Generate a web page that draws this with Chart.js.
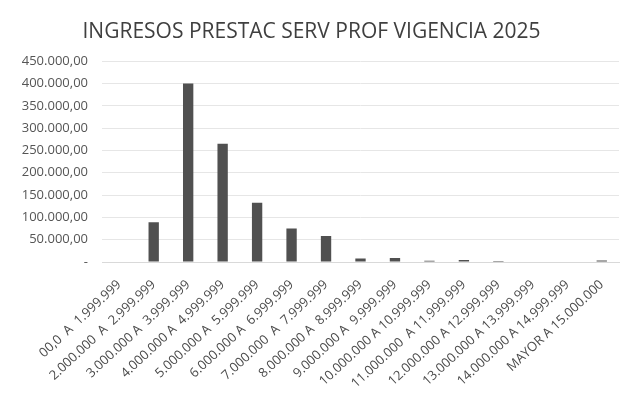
<!DOCTYPE html>
<html>
<head>
<meta charset="utf-8">
<script src="https://cdn.jsdelivr.net/npm/chart.js@4.4.0/dist/chart.umd.min.js"></script>
<style>
  html, body { margin: 0; padding: 0; background: #fff; }
  #wrap { width: 635px; height: 402px; }
</style>
</head>
<body>
<div id="wrap"><canvas id="barChart" width="635" height="402"></canvas></div>
<script>
// data
const rangos = [
  '00,0  A  1.999.999',
  '2.000.000  A  2.999.999',
  '3.000.000 A  3.999.999',
  '4.000.000 A  4.999.999',
  '5.000.000 A  5.999.999',
  '6.000.000 A  6.999.999',
  '7.000.000  A  7.999.999',
  '8.000.000 A  8.999.999',
  '9.000.000 A  9.999.999',
  '10.000.000 A 10.999.999',
  '11.000.000  A 11.999.999',
  '12.000.000 A 12.999.999',
  '13.000.000 A 13.999.999',
  '14.000.000 A 14.999.999',
  'MAYOR A 15.000.000'
];
const ingresos = [0, 89000, 400000, 265000, 133000, 75000, 58000, 8000, 9000, 3000, 4500, 2000, 0, 0, 3500];
const yMax = 450000;
const yStep = 50000;

function fmt(v) {
  if (v === 0) return '-';
  return v.toString().replace(/\B(?=(\d{3})+(?!\d))/g, '.') + ',00';
}

const ctx = document.getElementById('barChart');
new Chart(ctx, {
  type: 'bar',
  data: {
    labels: rangos,
    datasets: [{
      data: ingresos,
      backgroundColor: '#505050',
      borderWidth: 0,
      barPercentage: 0.3,
      categoryPercentage: 1.0
    }]
  },
  options: {
    responsive: false,
    animation: false,
    layout: { padding: { left: 4, right: 16, top: 19, bottom: 10 } },
    plugins: {
      legend: { display: false },
      tooltip: { enabled: false },
      title: {
        display: true,
        text: 'INGRESOS PRESTAC SERV PROF VIGENCIA 2025',
        color: '#3f3f3f',
        font: { family: 'Open Sans', size: 21, weight: 'normal' },
        padding: { top: 0, bottom: 17 }
      }
    },
    scales: {
      x: {
        grid: { display: false },
        border: { color: '#d9d9d9' },
        ticks: {
          color: '#4a4a4a',
          font: { family: 'Open Sans', size: 13 },
          minRotation: 43,
          maxRotation: 43,
          autoSkip: false,
          padding: 7
        },
        afterFit: s => { s.height = 130; }
      },
      y: {
        min: 0,
        max: yMax,
        ticks: {
          stepSize: yStep,
          color: '#555',
          font: { family: 'Open Sans', size: 13 },
          padding: 14,
          callback: v => fmt(v)
        },
        grid: { color: '#e6e6e6', drawTicks: false },
        border: { display: false },
        afterFit: s => { s.width = 98; }
      }
    }
  }
});
</script>
</body>
</html>
